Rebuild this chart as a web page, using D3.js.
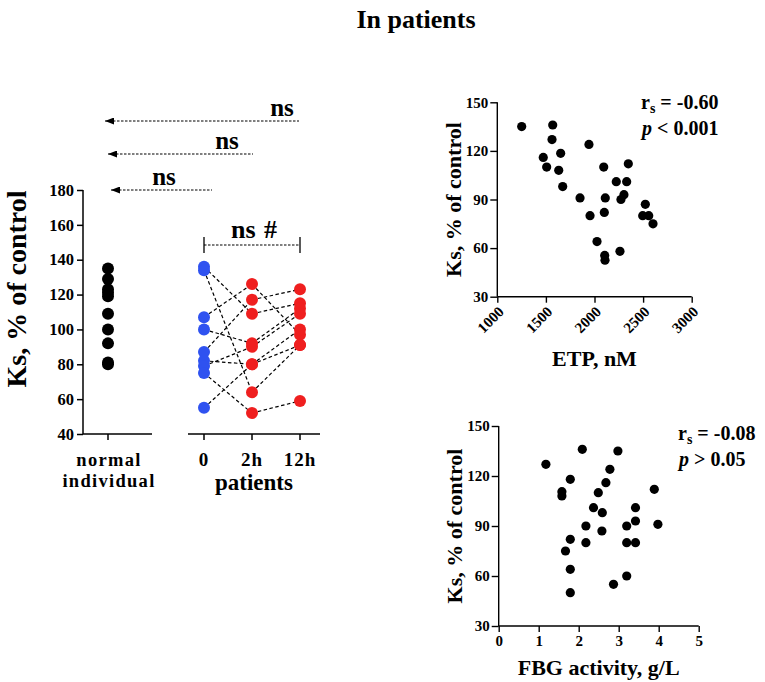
<!DOCTYPE html>
<html><head><meta charset="utf-8">
<script src="https://cdn.jsdelivr.net/npm/d3@7/dist/d3.min.js"></script>
<style>
body{margin:0;background:#fff;}
svg text{font-family:"Liberation Serif","Times New Roman",serif;font-weight:bold;fill:#000;}
</style></head>
<body>
<svg id="c" width="765" height="682"></svg>
<script>
// ---------- data ----------
const normalValues = [135,129,123,121,119,109,100,92,81,80];
const timeLabels = ["0","2h","12h"];
const time0  = [136,134,107,100,87,82,79,75,55];
const time2h = [109,64,126,92,117,80,90,52,80];
const time12h= [115,91,97,112,123,100,109,59,91];
const leftTicks = [40,60,80,100,120,140,160,180];

const etp = [1251,1570,1563,1473,1508,1652,1632,1673,1943,1851,1954,2095,2111,2101,2026,2105,2108,2262,2224,2331,2348,2303,2272,2523,2496,2558,2602];
const ksEtp = [135,136,127,116,110,118.5,108,98,124,91,80,110,91,82,64,55.5,52.5,58,101,101,112,93,90,87,80,80,75];
const etpTicks = [1000,1500,2000,2500,3000];

const fbg = [1.18,2.09,2.98,1.79,1.58,1.58,2.78,2.68,2.49,2.37,2.59,2.18,2.58,1.79,2.18,1.67,1.79,1.79,2.87,3.2,3.42,3.42,3.2,3.42,3.2,3.89,3.98];
const ksFbg = [127,136,135,118,110.6,108,124,116,110,101,98,90,87,82,80,75,64,50,55,90,101,93,80,80,60,112,91];
const fbgTicks = [0,1,2,3,4,5];
const ksTicks = [30,60,90,120,150];

const BLUE = "#2f52f0", RED = "#ef1f1f";
const FONT = "Liberation Serif";

const svg = d3.select("#c");

// title
svg.append("text").attr("x",416).attr("y",28).attr("text-anchor","middle")
  .style("font-size","26px").text("In patients");

// ---------- left panel ----------
const yL = d3.scaleLinear().domain([40,180]).range([434,190]);
const xN = d3.scalePoint().domain(["normal"]).range([83,133]).padding(0.5);
const xP = d3.scalePoint().domain(timeLabels).range([204,300]);

const gL = svg.append("g");
const axL = gL.append("g").attr("transform","translate(83,0)")
  .call(d3.axisLeft(yL).tickValues(leftTicks).tickSize(6).tickPadding(3));
axL.attr("font-family",FONT);
axL.selectAll("text").style("font-size","16.5px").style("font-family",FONT).style("font-weight","bold");
axL.selectAll("path,line").attr("stroke","#000").attr("stroke-width",1.5);
axL.select(".domain").attr("d","M0,"+yL(180)+"V"+yL(40));

// x axis segments
gL.append("line").attr("x1",83).attr("x2",152).attr("y1",434).attr("y2",434).attr("stroke","#000").attr("stroke-width",1.5);
gL.append("line").attr("x1",xN("normal")).attr("x2",xN("normal")).attr("y1",434).attr("y2",440).attr("stroke","#000").attr("stroke-width",1.5);
gL.append("line").attr("x1",188).attr("x2",320).attr("y1",434).attr("y2",434).attr("stroke","#000").attr("stroke-width",1.5);
timeLabels.forEach(t=>{
  gL.append("line").attr("x1",xP(t)).attr("x2",xP(t)).attr("y1",434).attr("y2",440).attr("stroke","#000").attr("stroke-width",1.5);
  gL.append("text").attr("x",xP(t)).attr("y",466).attr("text-anchor","middle")
    .style("font-size","19px").style("letter-spacing","1px").text(t);
});
gL.append("text").attr("x",xN("normal")+1).attr("y",466).attr("text-anchor","middle")
  .style("font-size","18.5px").style("letter-spacing","1.3px").text("normal");
gL.append("text").attr("x",xN("normal")+1).attr("y",487).attr("text-anchor","middle")
  .style("font-size","18.5px").style("letter-spacing","1.3px").text("individual");
gL.append("text").attr("x",254).attr("y",490).attr("text-anchor","middle")
  .style("font-size","23px").text("patients");

// y label
gL.append("text").attr("transform","translate(26,289) rotate(-90)").attr("text-anchor","middle")
  .style("font-size","28px").text("Ks, % of control");

// connecting lines
const series = [time0,time2h,time12h];
const dash = "3.5,2.5";
for(let i=0;i<time0.length;i++){
  for(let k=0;k<2;k++){
    gL.append("line")
      .attr("x1",xP(timeLabels[k])).attr("y1",yL(series[k][i]))
      .attr("x2",xP(timeLabels[k+1])).attr("y2",yL(series[k+1][i]))
      .attr("stroke","#000").attr("stroke-width",1.2).attr("stroke-dasharray",dash);
  }
}
// dots
gL.selectAll(".nd").data(normalValues).enter().append("circle")
  .attr("cx",xN("normal")).attr("cy",d=>yL(d)).attr("r",6).attr("fill","#000");
series.forEach((s,k)=>{
  gL.selectAll(".p"+k).data(s).enter().append("circle")
    .attr("cx",xP(timeLabels[k])).attr("cy",d=>yL(d)).attr("r",6)
    .attr("fill",k===0?BLUE:RED);
});

// significance arrows
const defs = svg.append("defs");
defs.append("marker").attr("id","ah").attr("viewBox","0 0 10 10").attr("refX",0).attr("refY",5)
  .attr("markerWidth",9).attr("markerHeight",7).attr("markerUnits","userSpaceOnUse").attr("orient","auto")
  .attr("preserveAspectRatio","none")
  .append("path").attr("d","M0,5L10,0L10,10Z").attr("fill","#000");
const arrows = [
  {x1:105,x2:299,y:121,tx:282},
  {x1:108,x2:253,y:154,tx:227},
  {x1:111,x2:212,y:190,tx:164}
];
arrows.forEach(a=>{
  gL.append("line").attr("x1",a.x1).attr("x2",a.x2).attr("y1",a.y).attr("y2",a.y)
    .attr("stroke","#000").attr("stroke-width",1.2).attr("stroke-dasharray","2.5,1.5")
    .attr("marker-start","url(#ah)");
  gL.append("text").attr("x",a.tx).attr("y",a.y-5).attr("text-anchor","middle")
    .style("font-size","25px").text("ns");
});
// bracket
gL.append("line").attr("x1",xP("0")).attr("x2",xP("12h")).attr("y1",245).attr("y2",245)
  .attr("stroke","#000").attr("stroke-width",1.2).attr("stroke-dasharray","2.5,1.5");
[xP("0"),xP("12h")].forEach(x=>{
  gL.append("line").attr("x1",x).attr("x2",x).attr("y1",237).attr("y2",253).attr("stroke","#000").attr("stroke-width",1.3);
});
gL.append("text").attr("x",254).attr("y",238).attr("text-anchor","middle")
  .style("font-size","26px").style("word-spacing","2px").text("ns #");

// ---------- scatter panels ----------
function scatter(cfg){
  const g = svg.append("g");
  const x = d3.scaleLinear().domain(cfg.xd).range(cfg.xr);
  const y = d3.scaleLinear().domain([30,150]).range(cfg.yr);
  const ay = g.append("g").attr("transform","translate("+cfg.xr[0]+",0)")
    .call(d3.axisLeft(y).tickValues(ksTicks).tickSize(7).tickPadding(2).tickFormat(d3.format("d")));
  const ax = g.append("g").attr("transform","translate(0,"+cfg.yr[0]+")")
    .call(d3.axisBottom(x).tickValues(cfg.xt).tickSize(6).tickPadding(3).tickFormat(d3.format("d")));
  [ay,ax].forEach(a=>{
    a.attr("font-family",FONT);
    a.selectAll("path,line").attr("stroke","#000").attr("stroke-width",1.4);
    a.selectAll("text").style("font-size","15px").style("font-family",FONT).style("font-weight","bold");
  });
  ay.select(".domain").attr("d","M0,"+cfg.yr[1]+"V"+cfg.yr[0]);
  ax.select(".domain").attr("d","M"+cfg.xr[0]+",0H"+cfg.xr[1]);
  if(cfg.rot){
    ax.selectAll(".tick text").attr("text-anchor","end").attr("dy",null).attr("y",null)
      .attr("transform","translate(7,16) rotate(-45)");
  }
  g.selectAll(".pt").data(cfg.xs).enter().append("circle")
    .attr("cx",d=>x(d)).attr("cy",(d,i)=>y(cfg.ys[i])).attr("r",4.6).attr("fill","#000");
  g.append("text").attr("transform","translate("+cfg.lx+","+((cfg.yr[0]+cfg.yr[1])/2)+") rotate(-90)")
    .attr("text-anchor","middle").style("font-size","22px").text("Ks, % of control");
  g.append("text").attr("x",(cfg.xr[0]+cfg.xr[1])/2).attr("y",cfg.xly).attr("text-anchor","middle")
    .style("font-size","22px").text(cfg.xlabel);
  const t1 = g.append("text").attr("x",cfg.ax).attr("y",cfg.ay).style("font-size","20px");
  t1.append("tspan").text("r");
  t1.append("tspan").attr("dy",4).style("font-size","14px").text("s");
  t1.append("tspan").attr("dy",-4).text(" = "+cfg.r);
  const t2 = g.append("text").attr("x",cfg.ax+1).attr("y",cfg.ay+26).style("font-size","20px");
  t2.append("tspan").style("font-style","italic").text("p");
  t2.append("tspan").text(" "+cfg.p);
}
scatter({xd:[1000,3000],xr:[497.3,691.7],yr:[296.7,102.3],xt:etpTicks,rot:true,
  xs:etp,ys:ksEtp,lx:461,xlabel:"ETP, nM",xly:366,ax:641,ay:109,r:"-0.60",p:"< 0.001"});
scatter({xd:[0,5],xr:[498.7,698.7],yr:[626,426],xt:fbgTicks,rot:false,
  xs:fbg,ys:ksFbg,lx:462,xlabel:"FBG activity, g/L",xly:675,ax:678,ay:440,r:"-0.08",p:"> 0.05"});
</script>
</body></html>
